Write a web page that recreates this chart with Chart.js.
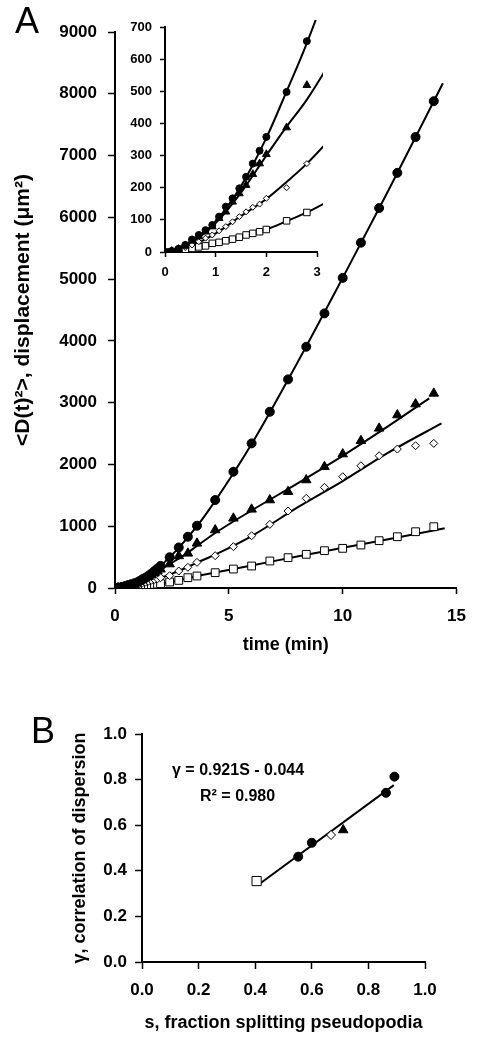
<!DOCTYPE html>
<html>
<head>
<meta charset="utf-8">
<script src="https://cdn.jsdelivr.net/npm/chart.js@4.4.0/dist/chart.umd.min.js"></script>
<style>
  body { margin: 0; background: #fff; }
  #fig { position: relative; width: 478px; height: 1038px; background: #fff; }
  #fig canvas { position: absolute; }
</style>
</head>
<body>
<div id="fig">
  <canvas id="chartA" width="478" height="660" style="left:0px;top:0px"></canvas>
  <canvas id="chartInset" width="210" height="285" style="left:120px;top:0px"></canvas>
  <canvas id="chartB" width="478" height="358" style="left:0px;top:680px"></canvas>
</div>
<script>
var FONT = '"Liberation Sans", Arial, sans-serif';

// ---- panel A: mean squared displacement vs time ----
var timeMin = [0, 0.133, 0.267, 0.4, 0.533, 0.667, 0.8, 0.933, 1.067, 1.2, 1.333, 1.467, 1.6, 1.733, 1.867, 2.0,
  2.4, 2.8, 3.2, 3.6, 4.4, 5.2, 6.0, 6.8, 7.6, 8.4, 9.2, 10.0, 10.8, 11.6, 12.4, 13.2, 14.0];
var circleVals = [0, 3, 10, 22, 39, 53, 68, 84, 110, 141, 167, 198, 234, 275, 315, 358,
  498, 656, 830, 1008, 1424, 1882, 2341, 2853, 3377, 3905, 4445, 5020, 5590, 6150, 6720, 7300, 7880];
var triangleVals = [0, 3, 9, 20, 35, 48, 63, 79, 105, 125, 156, 182, 208, 242, 275, 304,
  387, 519, 561, 723, 939, 1128, 1273, 1424, 1559, 1748, 1963, 2168, 2384, 2584, 2800, 2977, 3150];
var diamondVals = [0, 3, 8, 14, 22, 32, 43, 53, 66, 79, 94, 110, 125, 139, 149, 167,
  200, 275, 335, 415, 523, 669, 846, 1030, 1246, 1451, 1629, 1801, 1979, 2141, 2249, 2303, 2341];
var squareVals = [0, 1, 3, 8, 11, 16, 19, 27, 30, 35, 40, 46, 53, 58, 63, 70,
  97, 123, 167, 194, 248, 307, 356, 437, 491, 545, 604, 642, 696, 766, 830, 911, 992];

// fitted curves
var fitTime = [0, 0.5, 1, 1.5, 2, 2.4, 2.8, 3.6, 4.4, 6, 8, 10, 12];
var circleFit = [0, 30, 95, 205, 355, 500, 650, 1000, 1410, 2330, 3640, 5020, 6430];
var triangleFit = [0, 28, 90, 185, 300, 390, 474, 680, 890, 1255, 1690, 2140, 2620];
var diamondFit = [0, 18, 58, 112, 165, 218, 275, 410, 540, 840, 1300, 1730, 2190];
var squareFit = [0, 10, 28, 47, 70, 96, 123, 190, 250, 365, 510, 650, 790];
var fitEndTime = [14.4, 13.8, 14.34, 14.48];
var fitEndVal = [8170, 3070, 2665, 966];

var mainYTicks = [0, 9000, 1000];
var mainXTicks = [0, 15, 5];
var insetYTicks = [0, 700, 100];
var insetXTicks = [0, 3, 1];

// ---- panel B: gamma vs fraction splitting ----
var splitFrac = [0.405, 0.552, 0.600, 0.668, 0.711, 0.862, 0.892];
var gammaVals = [0.355, 0.462, 0.523, 0.557, 0.579, 0.742, 0.813];
var markerKind = ['square', 'circle', 'circle', 'diamond', 'triangle', 'circle', 'circle'];
var regLineX = [0.41, 0.89];
var regLineY = [0.338, 0.776];
var eqText = ['\u03b3 = 0.921S - 0.044', 'R\u00b2 = 0.980'];

function toPoints(xs, ys) {
  return xs.map(function (x, i) { return { x: x, y: ys[i] }; });
}

function fitPoints(vals, k) {
  var pts = toPoints(fitTime, vals);
  pts.push({ x: fitEndTime[k], y: fitEndVal[k] });
  return pts;
}

var markerStyle = {
  circle: { pointStyle: 'circle', bg: '#000' },
  triangle: { pointStyle: 'triangle', bg: '#000' },
  diamond: { pointStyle: 'rectRot', bg: '#fff' },
  square: { pointStyle: 'rect', bg: '#fff' }
};

function markerSet(vals, kind, radius) {
  var s = markerStyle[kind];
  return {
    data: toPoints(timeMin, vals),
    pointStyle: s.pointStyle,
    pointRadius: radius,
    pointBackgroundColor: s.bg,
    pointBorderColor: '#000',
    pointBorderWidth: 1,
    showLine: false,
    order: 0
  };
}

function fitSet(vals, k, clip) {
  var ds = {
    data: fitPoints(vals, k),
    showLine: true,
    pointRadius: 0,
    borderColor: '#000',
    borderWidth: 2,
    cubicInterpolationMode: 'monotone',
    fill: false,
    order: 1
  };
  if (clip) ds.clip = clip;
  return ds;
}

function axis(o) {
  var cfg = {
    type: 'linear',
    min: o.ticks[0],
    max: o.ticks[1],
    afterFit: function (scale) {
      if (o.width != null) scale.width = o.width;
      if (o.height != null) scale.height = o.height;
    },
    border: { display: true, color: '#000', width: 2 },
    grid: { drawOnChartArea: false, drawTicks: true, tickLength: o.tickLen, tickColor: '#000', tickWidth: 1.5 },
    ticks: {
      stepSize: o.ticks[2],
      color: '#000',
      padding: o.pad,
      autoSkip: false,
      maxRotation: 0,
      font: { family: FONT, size: o.size, weight: 'bold' },
      callback: o.cb || function (v) { return v; }
    },
    title: { display: false }
  };
  if (o.title) {
    cfg.title = {
      display: true,
      text: o.title,
      color: '#000',
      font: { family: FONT, size: o.titleSize, weight: 'bold' },
      padding: o.titlePad
    };
  }
  return cfg;
}

var panelLabel = {
  id: 'panelLabel',
  afterDraw: function (chart, args, opts) {
    var ctx = chart.ctx;
    ctx.save();
    ctx.font = '36px ' + FONT;
    ctx.fillStyle = '#000';
    ctx.textBaseline = 'alphabetic';
    ctx.fillText(opts.text, opts.x, opts.y);
    ctx.restore();
  }
};

var equationLabel = {
  id: 'equationLabel',
  afterDraw: function (chart, args, opts) {
    var ctx = chart.ctx, xs = chart.scales.x, ys = chart.scales.y;
    ctx.save();
    ctx.font = 'bold 16px ' + FONT;
    ctx.fillStyle = '#000';
    ctx.textBaseline = 'alphabetic';
    opts.lines.forEach(function (t, i) {
      ctx.fillText(t, xs.getPixelForValue(opts.at[i][0]), ys.getPixelForValue(opts.at[i][1]));
    });
    ctx.restore();
  }
};

Chart.defaults.animation = false;
Chart.defaults.font.family = FONT;

// main panel A
new Chart(document.getElementById('chartA'), {
  type: 'scatter',
  data: {
    datasets: [
      markerSet(circleVals, 'circle', 4.5),
      markerSet(triangleVals, 'triangle', 5.5),
      markerSet(diamondVals, 'diamond', 4),
      markerSet(squareVals, 'square', 5.5),
      fitSet(circleFit, 0),
      fitSet(triangleFit, 1),
      fitSet(diamondFit, 2),
      fitSet(squareFit, 3)
    ]
  },
  options: {
    responsive: false,
    devicePixelRatio: 1,
    layout: { padding: { left: 0, top: 32, right: 15, bottom: 0 } },
    plugins: {
      legend: { display: false },
      tooltip: { enabled: false },
      panelLabel: { text: 'A', x: 15, y: 33 }
    },
    scales: {
      x: axis({ ticks: mainXTicks, height: 72, tickLen: 6, pad: 12, size: 17,
        title: 'time (min)', titleSize: 18, titlePad: { top: 0, bottom: 4 } }),
      y: axis({ ticks: mainYTicks, width: 115, tickLen: 7, pad: 11, size: 17,
        title: '<D(t)\u00b2>, displacement (\u03bcm\u00b2)', titleSize: 21, titlePad: { top: 11, bottom: 0 } })
    }
  },
  plugins: [panelLabel]
});

// inset of panel A (first 3 min)
var insetClip = { left: 2, top: 7, right: 6, bottom: 2 };
new Chart(document.getElementById('chartInset'), {
  type: 'scatter',
  data: {
    datasets: [
      markerSet(circleVals, 'circle', 3.5),
      markerSet(triangleVals, 'triangle', 4.5),
      markerSet(diamondVals, 'diamond', 3),
      markerSet(squareVals, 'square', 4.6),
      fitSet(circleFit, 0, insetClip),
      fitSet(triangleFit, 1, insetClip),
      fitSet(diamondFit, 2, insetClip),
      fitSet(squareFit, 3, insetClip)
    ]
  },
  options: {
    responsive: false,
    devicePixelRatio: 1,
    layout: { padding: { left: 0, top: 27, right: 13, bottom: 0 } },
    plugins: { legend: { display: false }, tooltip: { enabled: false } },
    scales: {
      x: axis({ ticks: insetXTicks, height: 33, tickLen: 5, pad: 8, size: 13 }),
      y: axis({ ticks: insetYTicks, width: 45, tickLen: 5, pad: 8, size: 13 })
    }
  }
});

// panel B
new Chart(document.getElementById('chartB'), {
  type: 'scatter',
  data: {
    datasets: [
      {
        data: toPoints(splitFrac, gammaVals),
        pointStyle: markerKind.map(function (k) { return markerStyle[k].pointStyle; }),
        pointRadius: markerKind.map(function (k) { return k === 'square' ? 6.5 : k === 'triangle' ? 5.5 : 4.5; }),
        pointBackgroundColor: markerKind.map(function (k) { return markerStyle[k].bg; }),
        pointBorderColor: '#000',
        pointBorderWidth: 1,
        showLine: false,
        order: 0
      },
      {
        data: toPoints(regLineX, regLineY),
        showLine: true,
        pointRadius: 0,
        borderColor: '#000',
        borderWidth: 2,
        order: 1
      }
    ]
  },
  options: {
    responsive: false,
    devicePixelRatio: 1,
    layout: { padding: { left: 0, top: 54, right: 53, bottom: 0 } },
    plugins: {
      legend: { display: false },
      tooltip: { enabled: false },
      panelLabel: { text: 'B', x: 31, y: 63 },
      equationLabel: { lines: eqText, at: [[0.106, 0.82], [0.205, 0.706]] }
    },
    scales: {
      x: axis({ ticks: [0, 1, 0.2], height: 76, tickLen: 7, pad: 11, size: 17,
        cb: function (v) { return v.toFixed(1); },
        title: 's, fraction splitting pseudopodia', titleSize: 18, titlePad: { top: 0, bottom: 4 } }),
      y: axis({ ticks: [0, 1, 0.2], width: 142, tickLen: 7, pad: 8, size: 17,
        cb: function (v) { return v.toFixed(1); },
        title: '\u03b3, correlation of dispersion', titleSize: 18, titlePad: { top: 69, bottom: 0 } })
    }
  },
  plugins: [panelLabel, equationLabel]
});
</script>
</body>
</html>
